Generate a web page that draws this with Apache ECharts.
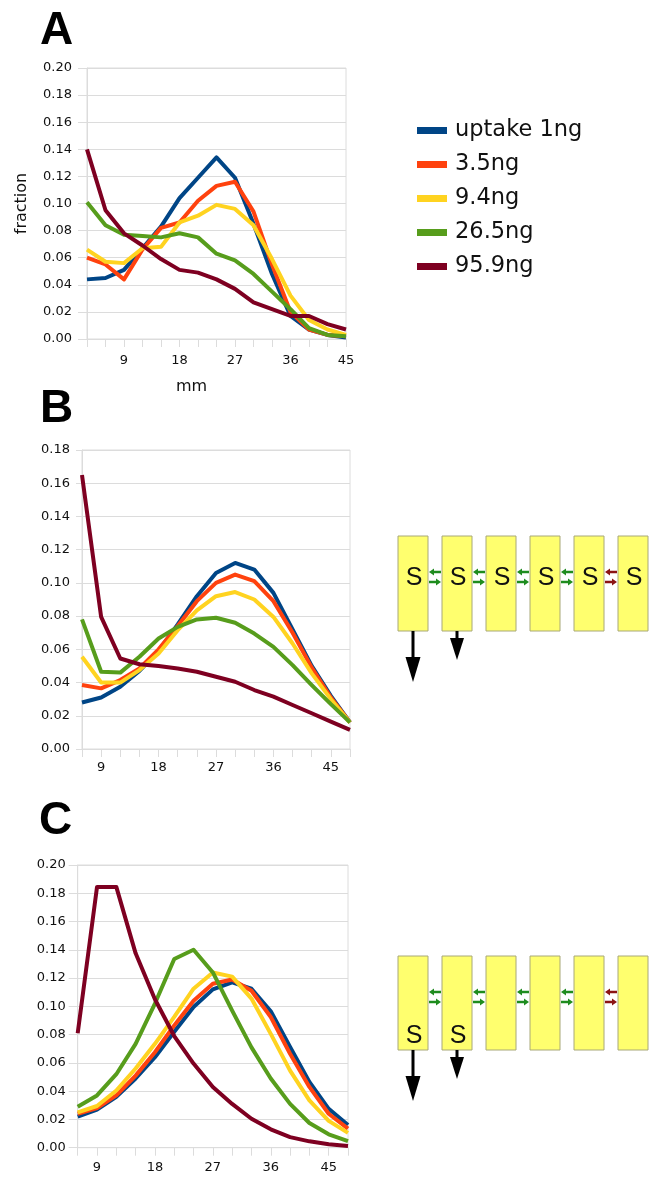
<!DOCTYPE html>
<html><head><meta charset="utf-8">
<script src="https://cdn.jsdelivr.net/npm/echarts@6/dist/echarts.min.js"></script>
<style>html,body{margin:0;padding:0;background:#fff}#c{width:662px;height:1185px}</style>
</head><body><div id="c"></div>
<script>
// ---- data ----
const seriesNames = ['uptake 1ng', '3.5ng', '9.4ng', '26.5ng', '95.9ng'];
const categoriesA = ['3','6','9','12','15','18','21','24','27','30','33','36','39','42','45'];
const categoriesBC = ['6','9','12','15','18','21','24','27','30','33','36','39','42','45','48'];
const yTicksA = [0, 0.02, 0.04, 0.06, 0.08, 0.10, 0.12, 0.14, 0.16, 0.18, 0.20];
const yTicksB = [0, 0.02, 0.04, 0.06, 0.08, 0.10, 0.12, 0.14, 0.16, 0.18];
const yTicksC = [0, 0.02, 0.04, 0.06, 0.08, 0.10, 0.12, 0.14, 0.16, 0.18, 0.20];

// Panel A
const A_1ng   = [0.044,0.045,0.051,0.067,0.083,0.104,0.119,0.134,0.119,0.085,0.048,0.017,0.007,0.003,0.001];
const A_3_5ng = [0.060,0.055,0.044,0.066,0.082,0.086,0.102,0.113,0.116,0.094,0.055,0.020,0.007,0.003,0.002];
const A_9_4ng = [0.066,0.057,0.056,0.067,0.068,0.086,0.091,0.099,0.096,0.084,0.059,0.032,0.014,0.007,0.003];
const A_26_5ng= [0.101,0.084,0.077,0.076,0.075,0.078,0.075,0.063,0.058,0.048,0.035,0.022,0.008,0.003,0.002];
const A_95_9ng= [0.140,0.095,0.078,0.069,0.059,0.051,0.049,0.044,0.037,0.027,0.022,0.017,0.017,0.011,0.007];

// Panel B
const B_1ng   = [0.028,0.031,0.0375,0.047,0.059,0.075,0.092,0.106,0.112,0.108,0.094,0.072,0.050,0.032,0.016];
const B_3_5ng = [0.0385,0.0365,0.0415,0.0485,0.060,0.074,0.089,0.100,0.105,0.101,0.089,0.070,0.049,0.031,0.016];
const B_9_4ng = [0.0555,0.040,0.040,0.0475,0.0575,0.0715,0.0835,0.092,0.0945,0.090,0.0795,0.0635,0.0455,0.030,0.016];
const B_26_5ng= [0.078,0.0465,0.046,0.0555,0.0665,0.0735,0.078,0.079,0.076,0.0695,0.0615,0.0505,0.0385,0.027,0.016];
const B_95_9ng= [0.165,0.0795,0.0545,0.051,0.050,0.0485,0.0465,0.0435,0.0405,0.0355,0.0315,0.0265,0.0215,0.0165,0.0115];

// Panel C
const C_1ng   = [0.022,0.027,0.036,0.049,0.064,0.082,0.0995,0.112,0.117,0.1125,0.0965,0.0712,0.0465,0.0275,0.016];
const C_3_5ng = [0.024,0.028,0.037,0.051,0.0675,0.0865,0.104,0.116,0.119,0.111,0.0925,0.0665,0.043,0.024,0.0135];
const C_9_4ng = [0.025,0.0295,0.0405,0.056,0.0735,0.0925,0.1125,0.124,0.121,0.1055,0.0805,0.0545,0.0335,0.019,0.0105];
const C_26_5ng= [0.029,0.037,0.052,0.0735,0.102,0.1335,0.140,0.124,0.097,0.071,0.049,0.031,0.0175,0.0095,0.0047];
const C_95_9ng= [0.081,0.1845,0.1845,0.1375,0.105,0.079,0.0595,0.043,0.031,0.0205,0.013,0.0075,0.0045,0.0024,0.0012];

const colors = ['#004586', '#ff420e', '#ffd320', '#579d1c', '#7e0021'];
const panelData = [
  [A_1ng, A_3_5ng, A_9_4ng, A_26_5ng, A_95_9ng],
  [B_1ng, B_3_5ng, B_9_4ng, B_26_5ng, B_95_9ng],
  [C_1ng, C_3_5ng, C_9_4ng, C_26_5ng, C_95_9ng]
];

// ---- layout ----
const FONT = '"DejaVu Sans", sans-serif';
const BOLD = '"Liberation Sans", Arial, sans-serif';
const gridCol = '#dcdcdc';
const grids = [
  {left: 87, top: 68, width: 259, height: 271},
  {left: 82, top: 450, width: 268, height: 299},
  {left: 77.7, top: 865, width: 270.3, height: 282.7}
];
const yMax = [yTicksA[yTicksA.length-1], yTicksB[yTicksB.length-1], yTicksC[yTicksC.length-1]];
const yLabelMargin = [15, 12, 12];
const xLabelMargin = [15, 12, 13];
const yTickLen = [9, 6, 9];

const xAxes = grids.map((g, i) => ({
  type: 'category', gridIndex: i, boundaryGap: false,
  data: i === 0 ? categoriesA : categoriesBC,
  axisLine: {show: true, lineStyle: {color: gridCol, width: 1}},
  axisTick: {show: true, interval: 0, length: 8, lineStyle: {color: gridCol}},
  axisLabel: {interval: (idx, val) => Number(val) % 9 === 0, color: '#111', fontFamily: FONT, fontSize: 13, margin: xLabelMargin[i]},
  splitLine: {show: false},
  name: i === 0 ? 'mm' : '',
  nameLocation: 'middle', nameGap: 40,
  nameTextStyle: {color: '#111', fontFamily: FONT, fontSize: 16, padding: [0, 50, 0, 0]}
}));
const yAxes = grids.map((g, i) => ({
  type: 'value', gridIndex: i, min: 0, max: yMax[i], interval: 0.02,
  axisLine: {show: true, lineStyle: {color: gridCol, width: 1}},
  axisTick: {show: true, length: yTickLen[i], lineStyle: {color: gridCol}},
  axisLabel: {formatter: v => v.toFixed(2), color: '#111', fontFamily: FONT, fontSize: 13, margin: yLabelMargin[i]},
  splitLine: {show: true, lineStyle: {color: gridCol, width: 1}},
  name: i === 0 ? 'fraction' : '',
  nameLocation: 'middle', nameRotate: 90, nameGap: 57,
  nameTextStyle: {color: '#111', fontFamily: FONT, fontSize: 16}
}));

const series = [];
panelData.forEach((arrs, gi) => {
  arrs.forEach((d, si) => {
    series.push({
      name: seriesNames[si], type: 'line', xAxisIndex: gi, yAxisIndex: gi,
      data: d, showSymbol: false, symbol: 'none',
      lineStyle: {width: 4, color: colors[si], join: 'round'},
      itemStyle: {color: colors[si]}
    });
  });
});

// ---- schematic diagrams ----
function diagram(top, h, sMode) {
  const els = [];
  const x0 = 398, pitch = 44, w = 30;
  const yLeft = top + 36;
  const yRight = yLeft + 10;
  for (let k = 0; k < 6; k++) {
    const x = x0 + k * pitch;
    els.push({type: 'rect', shape: {x: x, y: top, width: w, height: h},
      style: {fill: '#ffff6e', stroke: '#a8a878', lineWidth: 1}, z: 10});
    const showS = sMode === 'mid' || k < 2;
    if (showS) {
      els.push({type: 'text', x: x + w / 2 + 1, y: sMode === 'mid' ? top + 42 : top + h - 14,
        style: {text: 'S', fontSize: 25, fontFamily: BOLD.replace('"Liberation Sans"', '"Liberation Sans"'), fill: '#111', align: 'center', verticalAlign: 'middle'}, z: 12});
    }
    if (k < 5) {
      const col = k === 4 ? '#8b1414' : '#1e8c1e';
      const gx0 = x + w + 1, gx1 = x + pitch - 1;
      els.push({type: 'line', shape: {x1: gx0 + 4, y1: yLeft, x2: gx1, y2: yLeft}, style: {stroke: col, lineWidth: 2.5}, z: 11});
      els.push({type: 'polygon', shape: {points: [[gx0, yLeft], [gx0 + 5, yLeft - 3.5], [gx0 + 5, yLeft + 3.5]]}, style: {fill: col}, z: 11});
      els.push({type: 'line', shape: {x1: gx0, y1: yRight, x2: gx1 - 4, y2: yRight}, style: {stroke: col, lineWidth: 2.5}, z: 11});
      els.push({type: 'polygon', shape: {points: [[gx1, yRight], [gx1 - 5, yRight - 3.5], [gx1 - 5, yRight + 3.5]]}, style: {fill: col}, z: 11});
    }
  }
  const bottom = top + h;
  const downs = [[413, 51, 25, 15], [457, 29, 22, 14]];
  downs.forEach(([cx, len, headH, headW]) => {
    els.push({type: 'line', shape: {x1: cx, y1: bottom, x2: cx, y2: bottom + len - headH + 2}, style: {stroke: '#000', lineWidth: 3}, z: 11});
    els.push({type: 'polygon', shape: {points: [[cx - headW / 2, bottom + len - headH], [cx + headW / 2, bottom + len - headH], [cx, bottom + len]]}, style: {fill: '#000'}, z: 11});
  });
  return els;
}

const letters = [['A', 40, 31], ['B', 40, 409], ['C', 39, 821]].map(([t, x, y]) => ({
  type: 'text', x: x, y: y,
  style: {text: t, fontSize: 46, fontWeight: 'bold', fontFamily: BOLD, fill: '#000', verticalAlign: 'middle'}
}));

const option = {
  animation: false,
  backgroundColor: '#fff',
  color: colors,
  grid: grids.map(g => Object.assign({show: true, borderColor: gridCol, borderWidth: 1, containLabel: false}, g)),
  xAxis: xAxes,
  yAxis: yAxes,
  legend: {
    data: seriesNames, orient: 'vertical', left: 417, top: 119, padding: 0,
    icon: 'rect', itemWidth: 30, itemHeight: 7, itemGap: 11,
    textStyle: {fontSize: 22.5, fontFamily: FONT, color: '#111', lineHeight: 22.5, padding: [0, 0, 0, 3]}
  },
  series: series,
  graphic: letters.concat(diagram(536, 95, 'mid'), diagram(956, 94, 'low'))
};

const chart = echarts.init(document.getElementById('c'), null, {renderer: 'canvas'});
chart.setOption(option);
</script>
</body></html>
